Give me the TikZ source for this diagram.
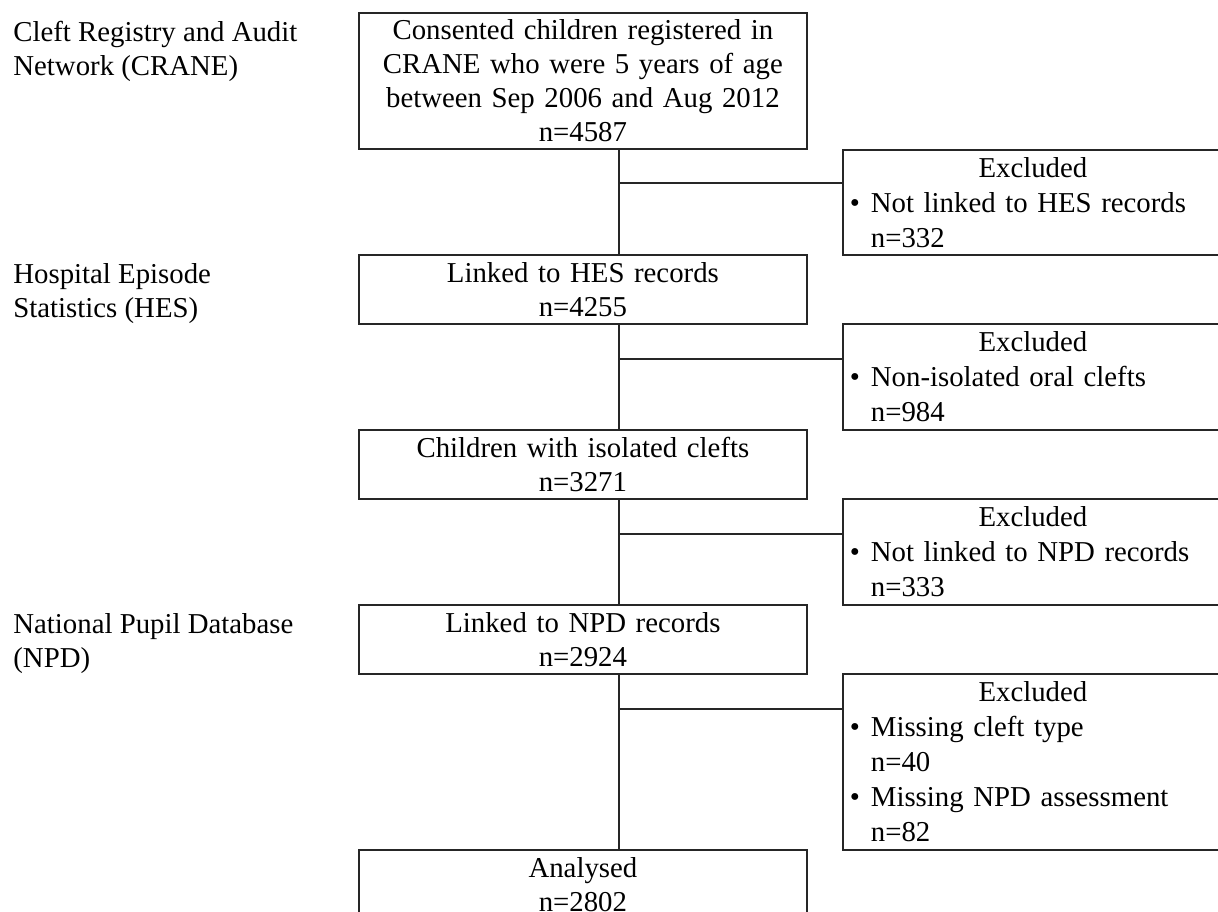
\documentclass[tikz,border=0pt]{standalone}
\usepackage{fontspec}
\setmainfont{Liberation Serif}
\newcommand{\exhead}{\makebox[183pt][c]{Excluded}}
\newcommand{\exitem}[2]{\makebox[10.5pt][l]{\textbullet}#1\\\hspace*{10.5pt}#2}

\begin{document}
\begin{tikzpicture}[x=0.5pt,y=-0.5pt,
  every node/.style={font=\fontsize{14.4}{17}\selectfont},
  mainbox/.style={draw=black!85,line width=0.9pt,anchor=north west,inner sep=0pt,text width=224pt,align=center,minimum height=34.5pt},
  exbox/.style={draw=black!85,line width=0.9pt,anchor=north west,inner xsep=3.5pt,inner ysep=0pt,text width=183pt,align=left,font=\fontsize{14.4}{17.5}\selectfont},
  source/.style={anchor=north west,inner sep=0pt,align=left},
  link/.style={draw=black!85,line width=0.9pt}]
\useasboundingbox (0,0) rectangle (1218,911);
\node[source] (src1) at (13,21) {Cleft Registry and Audit\\Network (CRANE)};
\node[source] (src2) at (13,263) {Hospital Episode\\Statistics (HES)};
\node[source] (src3) at (13,613) {National Pupil Database\\(NPD)};
\node[mainbox,minimum height=68pt] (crane) at (358,12) {Consented children registered in\\CRANE who were 5 years of age\\between Sep 2006 and Aug 2012\\n=4587};
\node[exbox,minimum height=52.5pt] (ex1) at (842,149) {\exhead\\\exitem{Not linked to HES records}{n=332}};
\node[mainbox] (hes) at (358,254) {Linked to HES records\\n=4255};
\node[exbox,minimum height=53pt] (ex2) at (842,323) {\exhead\\\exitem{Non-isolated oral clefts}{n=984}};
\node[mainbox] (iso) at (358,429) {Children with isolated clefts\\n=3271};
\node[exbox,minimum height=53pt] (ex3) at (842,498) {\exhead\\\exitem{Not linked to NPD records}{n=333}};
\node[mainbox] (npd) at (358,604) {Linked to NPD records\\n=2924};
\node[exbox,minimum height=88pt] (ex4) at (842,673) {\exhead\\\exitem{Missing cleft type}{n=40}\\\exitem{Missing NPD assessment}{n=82}};
\node[mainbox] (done) at (358,849) {Analysed\\n=2802};
\coordinate (trunk) at (619,0);
\draw[link] (crane.south -| trunk) -- (hes.north -| trunk);
\draw[link] (hes.south -| trunk) -- (iso.north -| trunk);
\draw[link] (iso.south -| trunk) -- (npd.north -| trunk);
\draw[link] (npd.south -| trunk) -- (done.north -| trunk);
\coordinate (b1) at (619,183);
\coordinate (b2) at (619,359);
\coordinate (b3) at (619,534);
\coordinate (b4) at (619,709);
\draw[link] (b1) -- (b1 -| ex1.west);
\draw[link] (b2) -- (b2 -| ex2.west);
\draw[link] (b3) -- (b3 -| ex3.west);
\draw[link] (b4) -- (b4 -| ex4.west);
\end{tikzpicture}
\end{document}
